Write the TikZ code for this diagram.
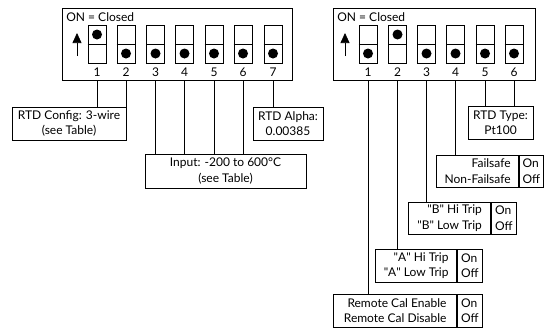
\documentclass[tikz,border=0pt]{standalone}
\usepackage{fontspec}
\setmainfont{Lato}
\usetikzlibrary{arrows.meta,positioning}
\tikzset{
	swbox/.style={draw,minimum width=18,minimum height=38,inner sep=0pt},
	swdot/.style={fill,circle,inner sep=0pt,minimum size=10},
	lbl/.style={draw,align=center,inner sep=2pt},
	onoff/.style={draw,align=left,inner sep=2pt,anchor=west}
}
\newcommand{\qd}{\textquotedbl}
\begin{document}
\begin{tikzpicture}[line width=0.7pt,x=1pt,y=-1pt,font=\fontsize{12}{15.5}\selectfont]
	\useasboundingbox (0,0) rectangle (548,335);
	% the two switch blocks
	\node[draw,minimum width=230,minimum height=72] (frmL) at (177,44) {};
	\node[draw,minimum width=202,minimum height=72] (frmR) at (434,44) {};
	\node[anchor=west,inner sep=0pt] (onL) at (66,17) {ON = Closed};
	\node[anchor=west,inner sep=0pt] (onR) at (337,17) {ON = Closed};
	\path (77,56) coordinate (aL0) (77,33) coordinate (aL1)
	(345,56) coordinate (aR0) (345,33) coordinate (aR1);
	\draw[-{Triangle[width=9pt,length=10pt]}] (aL0) -- (aL1);
	\draw[-{Triangle[width=9pt,length=10pt]}] (aR0) -- (aR1);
	\foreach \n/\x/\p in {1/97/34.5,2/126/53.5,3/155.5/53.5,4/184.5/53.5,5/214/53.5,6/243/53.5,7/273/53.5}{
		\node[swbox] (sL\n) at (\x,44) {};
		\draw (sL\n.west) -- (sL\n.east);
		\node[swdot] at (\x,\p) {};
		\node[inner sep=0pt] (nL\n) at (\x,72) {\n};
	}
	\foreach \n/\x/\p in {1/368/53.5,2/397.5/34.5,3/426.5/53.5,4/455.5/53.5,5/485/53.5,6/514/53.5}{
		\node[swbox] (sR\n) at (\x,44) {};
		\draw (sR\n.west) -- (sR\n.east);
		\node[swdot] at (\x,\p) {};
		\node[inner sep=0pt] (nR\n) at (\x,72) {\n};
	}
	% left labels
	\node[lbl,minimum width=114,minimum height=33] (cfg) at (69,123.5) {RTD Config: 3-wire\\(see Table)};
	\node[lbl,minimum width=161,minimum height=34] (inp) at (225.5,171) {Input: -200 to 600°C\\(see Table)};
	\node[lbl,minimum width=70,minimum height=33] (alp) at (288,123.5) {RTD Alpha:\\0.00385};
	\foreach \n in {1,2} \draw (frmL.south -| sL\n) -- (cfg.north -| sL\n);
	\foreach \n in {3,...,6} \draw (frmL.south -| sL\n) -- (inp.north -| sL\n);
	\draw (frmL.south -| sL7) -- (alp.north -| sL7);
	% right labels
	\node[lbl,minimum width=65,minimum height=33] (typ) at (500.5,122.5) {RTD Type:\\Pt100};
	\node[lbl,align=right,minimum width=82,minimum height=32,anchor=east] (fsA) at (519,171) {Failsafe\\Non-Failsafe};
	\node[onoff,minimum width=24,minimum height=32] (fsB) at (fsA.east) {On\\Off};
	\node[lbl,align=right,minimum width=82,minimum height=32,anchor=east] (tbA) at (491,218) {\qd B\qd{} Hi Trip\\\qd B\qd{} Low Trip};
	\node[onoff,minimum width=25,minimum height=32] (tbB) at (tbA.east) {On\\Off};
	\node[lbl,align=right,minimum width=81,minimum height=33,anchor=east] (taA) at (457,265.5) {\qd A\qd{} Hi Trip\\\qd A\qd{} Low Trip};
	\node[onoff,minimum width=25,minimum height=33] (taB) at (taA.east) {On\\Off};
	\node[lbl,align=right,minimum width=123,minimum height=33,anchor=east] (rcA) at (457,310.5) {Remote Cal Enable\\Remote Cal Disable};
	\node[onoff,minimum width=25,minimum height=33] (rcB) at (rcA.east) {On\\Off};
	\draw (frmR.south -| sR1) -- (rcA.north -| sR1);
	\draw (frmR.south -| sR2) -- (taA.north -| sR2);
	\draw (frmR.south -| sR3) -- (tbA.north -| sR3);
	\draw (frmR.south -| sR4) -- (fsA.north -| sR4);
	\foreach \n in {5,6} \draw (frmR.south -| sR\n) -- (typ.north -| sR\n);
\end{tikzpicture}
\end{document}
